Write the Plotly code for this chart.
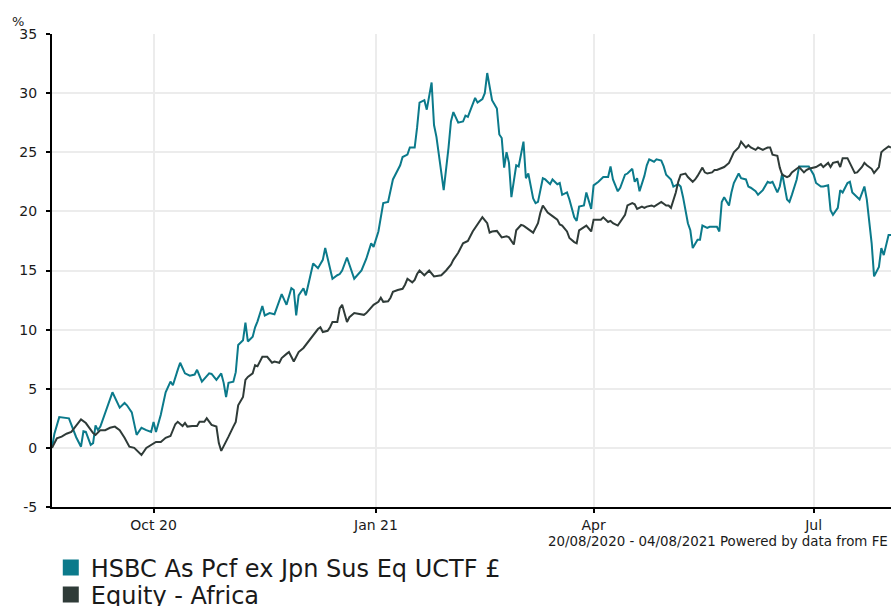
import plotly.graph_objects as go

# ---------------- data ----------------
hsbc_name = "HSBC As Pcf ex Jpn Sus Eq UCTF £"
africa_name = "Equity - Africa"

hsbc_dates = [
    "2020-08-20", "2020-08-21", "2020-08-23", "2020-08-27", "2020-08-30", "2020-09-01", "2020-09-02",
    "2020-09-03", "2020-09-05", "2020-09-06", "2020-09-07", "2020-09-08", "2020-09-09", "2020-09-12",
    "2020-09-14", "2020-09-17", "2020-09-19", "2020-09-20", "2020-09-22", "2020-09-24", "2020-09-26",
    "2020-09-28", "2020-09-30", "2020-10-01", "2020-10-02", "2020-10-04", "2020-10-06", "2020-10-08",
    "2020-10-09", "2020-10-11", "2020-10-12", "2020-10-14", "2020-10-16", "2020-10-18", "2020-10-19",
    "2020-10-21", "2020-10-24", "2020-10-25", "2020-10-27", "2020-10-29", "2020-10-30", "2020-10-31",
    "2020-11-01", "2020-11-03", "2020-11-04", "2020-11-05", "2020-11-07", "2020-11-08", "2020-11-09",
    "2020-11-11", "2020-11-12", "2020-11-13", "2020-11-15", "2020-11-16", "2020-11-18", "2020-11-20",
    "2020-11-22", "2020-11-23", "2020-11-25", "2020-11-27", "2020-11-28", "2020-11-29", "2020-11-30",
    "2020-12-02", "2020-12-03", "2020-12-06", "2020-12-08", "2020-12-10", "2020-12-11", "2020-12-14",
    "2020-12-16", "2020-12-17", "2020-12-18", "2020-12-20", "2020-12-23", "2020-12-26", "2020-12-28",
    "2020-12-30", "2020-12-31", "2021-01-02", "2021-01-04", "2021-01-06", "2021-01-08", "2021-01-11",
    "2021-01-12", "2021-01-14", "2021-01-15", "2021-01-17", "2021-01-18", "2021-01-19", "2021-01-21",
    "2021-01-22", "2021-01-24", "2021-01-25", "2021-01-26", "2021-01-28", "2021-01-29", "2021-01-31",
    "2021-02-01", "2021-02-02", "2021-02-04", "2021-02-06", "2021-02-07", "2021-02-08", "2021-02-10",
    "2021-02-11", "2021-02-12", "2021-02-14", "2021-02-15", "2021-02-16", "2021-02-18", "2021-02-20",
    "2021-02-21", "2021-02-22", "2021-02-23", "2021-02-24", "2021-02-25", "2021-02-26", "2021-02-28",
    "2021-03-01", "2021-03-03", "2021-03-04", "2021-03-05", "2021-03-07", "2021-03-08", "2021-03-09",
    "2021-03-11", "2021-03-12", "2021-03-14", "2021-03-15", "2021-03-17", "2021-03-18", "2021-03-19",
    "2021-03-21", "2021-03-22", "2021-03-24", "2021-03-25", "2021-03-26", "2021-03-28", "2021-03-29",
    "2021-03-31", "2021-04-01", "2021-04-03", "2021-04-04", "2021-04-05", "2021-04-07", "2021-04-08",
    "2021-04-09", "2021-04-11", "2021-04-12", "2021-04-14", "2021-04-15", "2021-04-17", "2021-04-18",
    "2021-04-19", "2021-04-20", "2021-04-22", "2021-04-23", "2021-04-24", "2021-04-26", "2021-04-27",
    "2021-04-29", "2021-04-30", "2021-05-01", "2021-05-03", "2021-05-04", "2021-05-06", "2021-05-07",
    "2021-05-08", "2021-05-10", "2021-05-11", "2021-05-12", "2021-05-14", "2021-05-15", "2021-05-16",
    "2021-05-18", "2021-05-19", "2021-05-20", "2021-05-22", "2021-05-23", "2021-05-24", "2021-05-25",
    "2021-05-27", "2021-05-28", "2021-05-29", "2021-05-31", "2021-06-01", "2021-06-03", "2021-06-04",
    "2021-06-05", "2021-06-07", "2021-06-08", "2021-06-10", "2021-06-12", "2021-06-13", "2021-06-14",
    "2021-06-16", "2021-06-17", "2021-06-18", "2021-06-20", "2021-06-21", "2021-06-22", "2021-06-24",
    "2021-06-25", "2021-06-27", "2021-06-28", "2021-06-29", "2021-07-01", "2021-07-02", "2021-07-04",
    "2021-07-05", "2021-07-07", "2021-07-08", "2021-07-09", "2021-07-11", "2021-07-12", "2021-07-13",
    "2021-07-15", "2021-07-16", "2021-07-17", "2021-07-19", "2021-07-20", "2021-07-22", "2021-07-23",
    "2021-07-25", "2021-07-26", "2021-07-28", "2021-07-29", "2021-07-30", "2021-08-01", "2021-08-02",
]
hsbc_values = [
    0.0, 1.2, 2.6, 2.5, 0.9, 0.1, 1.4,
    1.35, 0.25, 0.4, 1.9, 1.5, 1.8, 3.6,
    4.7, 3.4, 3.8, 3.6, 3.0, 1.1, 1.7,
    1.5, 1.35, 2.2, 1.35, 2.8, 4.7, 5.6,
    5.3, 6.6, 7.2, 6.3, 6.1, 6.2, 6.6,
    5.6, 6.3, 6.25, 5.75, 6.3, 5.5, 4.3,
    5.5, 5.6, 6.4, 8.7, 9.1, 10.6, 9.0,
    9.4, 10.2, 10.7, 12.0, 11.2, 11.4, 11.3,
    12.5, 13.0, 12.1, 13.5, 13.35, 11.2, 12.9,
    13.5, 12.9, 15.6, 15.2, 15.9, 16.9, 14.3,
    14.6, 14.7, 15.0, 16.1, 14.3, 15.0, 16.0,
    17.3, 17.0, 18.3, 20.7, 20.8, 22.7, 23.9,
    24.6, 24.8, 25.4, 25.4, 27.1, 29.2, 29.4,
    28.6, 30.9, 27.3, 26.3, 23.3, 21.8, 25.4,
    27.6, 28.4, 27.5, 27.6, 28.1, 28.0, 29.0,
    29.6, 29.2, 29.5, 30.0, 31.7, 29.4, 28.7,
    26.5, 26.2, 23.7, 25.0, 24.1, 21.2, 23.9,
    23.8, 25.9, 22.8, 23.2, 21.1, 20.7, 20.8,
    22.8, 22.7, 22.3, 22.7, 22.3, 22.4, 21.4,
    21.6, 21.0, 19.5, 19.2, 20.4, 20.5, 21.6,
    20.2, 22.2, 22.5, 22.7, 22.9, 22.9, 23.8,
    22.7, 21.7, 22.0, 23.1, 23.2, 23.6, 22.5,
    22.8, 21.7, 23.0, 23.9, 24.4, 24.2, 24.4,
    24.3, 23.8, 23.1, 22.7, 22.1, 22.3, 22.1,
    21.2, 19.0, 18.4, 16.9, 17.6, 17.6, 18.8,
    18.6, 18.7, 18.7, 18.7, 18.3, 20.8, 21.2,
    20.5, 21.6, 22.4, 23.2, 22.8, 22.7, 22.1,
    22.0, 21.7, 21.4, 21.8, 22.5, 22.4, 22.5,
    21.6, 22.1, 23.2, 21.0, 20.8, 21.4, 22.7,
    23.8, 23.8, 23.8, 23.8, 23.1, 22.4, 22.1,
    22.1, 22.2, 20.1, 19.7, 20.3, 21.8, 21.6,
    22.4, 22.5, 21.6, 21.2, 21.0, 22.1, 21.0,
    17.3, 14.5, 15.3, 16.9, 16.3, 18.0, 18.0,
]

africa_dates = [
    "2020-08-20", "2020-08-22", "2020-08-24", "2020-08-26", "2020-08-28", "2020-08-30", "2020-09-01",
    "2020-09-03", "2020-09-04", "2020-09-06", "2020-09-07", "2020-09-09", "2020-09-11", "2020-09-13",
    "2020-09-15", "2020-09-17", "2020-09-19", "2020-09-21", "2020-09-23", "2020-09-25", "2020-09-26",
    "2020-09-28", "2020-09-30", "2020-10-02", "2020-10-04", "2020-10-06", "2020-10-08", "2020-10-10",
    "2020-10-11", "2020-10-13", "2020-10-14", "2020-10-15", "2020-10-17", "2020-10-19", "2020-10-20",
    "2020-10-22", "2020-10-23", "2020-10-25", "2020-10-27", "2020-10-28", "2020-10-29", "2020-10-31",
    "2020-11-01", "2020-11-03", "2020-11-04", "2020-11-05", "2020-11-07", "2020-11-08", "2020-11-09",
    "2020-11-11", "2020-11-12", "2020-11-13", "2020-11-15", "2020-11-16", "2020-11-17", "2020-11-19",
    "2020-11-20", "2020-11-22", "2020-11-23", "2020-11-25", "2020-11-26", "2020-11-28", "2020-11-30",
    "2020-12-02", "2020-12-04", "2020-12-06", "2020-12-08", "2020-12-09", "2020-12-10", "2020-12-12",
    "2020-12-13", "2020-12-14", "2020-12-16", "2020-12-17", "2020-12-18", "2020-12-20", "2020-12-21",
    "2020-12-23", "2020-12-25", "2020-12-27", "2020-12-28", "2020-12-30", "2020-12-31", "2021-01-02",
    "2021-01-03", "2021-01-04", "2021-01-06", "2021-01-07", "2021-01-08", "2021-01-10", "2021-01-12",
    "2021-01-13", "2021-01-14", "2021-01-16", "2021-01-17", "2021-01-18", "2021-01-19", "2021-01-21",
    "2021-01-23", "2021-01-25", "2021-01-28", "2021-01-30", "2021-02-01", "2021-02-02", "2021-02-04",
    "2021-02-06", "2021-02-08", "2021-02-10", "2021-02-12", "2021-02-14", "2021-02-16", "2021-02-17",
    "2021-02-18", "2021-02-20", "2021-02-22", "2021-02-24", "2021-02-25", "2021-02-27", "2021-02-28",
    "2021-03-02", "2021-03-03", "2021-03-05", "2021-03-06", "2021-03-07", "2021-03-09", "2021-03-10",
    "2021-03-11", "2021-03-13", "2021-03-15", "2021-03-17", "2021-03-18", "2021-03-19", "2021-03-21",
    "2021-03-22", "2021-03-24", "2021-03-25", "2021-03-26", "2021-03-28", "2021-03-29", "2021-03-31",
    "2021-04-01", "2021-04-03", "2021-04-04", "2021-04-05", "2021-04-07", "2021-04-08", "2021-04-09",
    "2021-04-11", "2021-04-12", "2021-04-14", "2021-04-15", "2021-04-17", "2021-04-18", "2021-04-19",
    "2021-04-21", "2021-04-22", "2021-04-23", "2021-04-25", "2021-04-26", "2021-04-28", "2021-04-29",
    "2021-05-01", "2021-05-02", "2021-05-03", "2021-05-05", "2021-05-06", "2021-05-07", "2021-05-09",
    "2021-05-10", "2021-05-12", "2021-05-13", "2021-05-14", "2021-05-16", "2021-05-17", "2021-05-18",
    "2021-05-20", "2021-05-21", "2021-05-22", "2021-05-24", "2021-05-25", "2021-05-27", "2021-05-28",
    "2021-05-29", "2021-05-31", "2021-06-01", "2021-06-03", "2021-06-04", "2021-06-05", "2021-06-07",
    "2021-06-08", "2021-06-10", "2021-06-11", "2021-06-12", "2021-06-13", "2021-06-14", "2021-06-16",
    "2021-06-17", "2021-06-18", "2021-06-20", "2021-06-21", "2021-06-22", "2021-06-24", "2021-06-25",
    "2021-06-27", "2021-06-28", "2021-06-29", "2021-07-01", "2021-07-02", "2021-07-04", "2021-07-05",
    "2021-07-07", "2021-07-08", "2021-07-09", "2021-07-11", "2021-07-12", "2021-07-13", "2021-07-15",
    "2021-07-16", "2021-07-18", "2021-07-19", "2021-07-21", "2021-07-22", "2021-07-23", "2021-07-25",
    "2021-07-26", "2021-07-28", "2021-07-29", "2021-07-30", "2021-08-01", "2021-08-02",
]
africa_values = [
    0.0, 0.8, 0.95, 1.2, 1.35, 1.9, 2.4,
    2.1, 1.8, 1.25, 1.1, 1.5, 1.5, 1.7,
    1.8, 1.5, 0.85, 0.1, 0.0, -0.45, -0.6,
    0.0, 0.25, 0.5, 0.5, 0.85, 1.0, 2.0,
    2.2, 1.85, 2.1, 1.8, 1.85, 1.85, 2.2,
    2.2, 2.5, 1.95, 1.8, 0.4, -0.25, 0.5,
    0.95, 1.8, 2.2, 3.6, 4.3, 5.75, 6.0,
    6.3, 7.0, 6.9, 7.7, 7.7, 7.7, 7.2,
    7.3, 7.2, 7.6, 7.95, 8.1, 7.3, 8.1,
    8.45, 9.0, 9.55, 10.05, 10.2, 9.8, 9.9,
    10.2, 10.65, 10.65, 11.8, 12.1, 10.65, 11.05,
    11.4, 11.3, 11.25, 11.4, 11.9, 12.1, 12.35,
    12.7, 12.35, 12.4, 12.7, 13.2, 13.35, 13.45,
    13.8, 14.3, 14.0, 14.2, 14.7, 15.0, 14.6,
    15.0, 14.5, 14.6, 15.0, 15.5, 15.9, 16.5,
    17.3, 17.5, 18.3, 18.85, 19.5, 19.0, 18.2,
    18.3, 18.35, 17.8, 17.9, 17.8, 17.2, 18.4,
    18.85, 18.8, 18.5, 18.35, 18.2, 19.0, 19.9,
    20.5, 19.9, 19.6, 19.3, 18.9, 18.8, 18.3,
    17.75, 17.4, 17.3, 18.4, 18.7, 18.8, 18.3,
    19.3, 19.3, 19.3, 19.5, 19.1, 19.2, 19.0,
    18.8, 19.1, 19.7, 20.5, 20.7, 20.6, 20.2,
    20.4, 20.3, 20.4, 20.5, 20.4, 20.7, 20.8,
    20.5, 20.5, 20.3, 21.6, 22.5, 23.1, 23.2,
    22.9, 22.5, 22.7, 23.0, 23.7, 23.3, 23.2,
    23.3, 23.5, 23.5, 23.7, 23.75, 24.1, 24.6,
    25.0, 25.4, 25.9, 25.4, 25.6, 25.4, 25.2,
    25.4, 25.2, 25.3, 25.4, 25.4, 24.8, 24.7,
    23.7, 23.1, 22.9, 23.0, 23.3, 23.6, 23.75,
    23.3, 23.5, 23.6, 23.7, 23.75, 24.0, 23.75,
    24.1, 23.75, 24.1, 24.2, 23.75, 24.5, 24.5,
    24.1, 23.25, 23.3, 23.75, 24.1, 23.9, 23.6,
    23.25, 23.75, 25.0, 25.2, 25.5, 25.4,
]

x_tick_vals = ["2020-10-01", "2021-01-01", "2021-04-01", "2021-07-01"]
x_tick_text = ["Oct 20", "Jan 21", "Apr", "Jul"]
y_tick_vals = [-5, 0, 5, 10, 15, 20, 25, 30, 35]
y_tick_text = ["-5", "0", "5", "10", "15", "20", "25", "30", "35"]

date_note = "20/08/2020 - 04/08/2021 Powered by data from FE"

# ---------------- styles ----------------
TEAL = "#0b7a8b"
DARK = "#2f3b38"
FONT = "DejaVu Sans, Verdana, sans-serif"
TXT = "#1a1a1a"

fig = go.Figure()

fig.add_trace(go.Scatter(x=hsbc_dates, y=hsbc_values, mode="lines",
                         line=dict(color=TEAL, width=2), showlegend=False, name=hsbc_name))
fig.add_trace(go.Scatter(x=africa_dates, y=africa_values, mode="lines",
                         line=dict(color=DARK, width=2), showlegend=False, name=africa_name))

# legend entries with square swatches, one legend per row
fig.add_trace(go.Scatter(x=[None], y=[None], mode="markers", name=hsbc_name, legend="legend",
                         marker=dict(symbol="square", size=16, color=TEAL)))
fig.add_trace(go.Scatter(x=[None], y=[None], mode="markers", name=africa_name, legend="legend2",
                         marker=dict(symbol="square", size=16, color=DARK)))

legend_style = dict(orientation="v", xref="container", yref="container",
                    x=0.057, xanchor="left", yanchor="middle",
                    font=dict(family=FONT, size=24, color=TXT),
                    itemwidth=30, tracegroupgap=0, bgcolor="rgba(0,0,0,0)",
                    borderwidth=0)

fig.update_layout(
    width=891, height=606,
    margin=dict(l=52, r=0, t=34, b=99, autoexpand=False),
    paper_bgcolor="white", plot_bgcolor="white",
    font=dict(family=FONT, size=14, color=TXT),
    showlegend=True,
    legend=dict(legend_style, y=1 - 568 / 606),
    legend2=dict(legend_style, y=1 - 595 / 606),
    xaxis=dict(
        type="date", range=["2020-08-20", "2021-08-02"], automargin=False,
        tickmode="array", tickvals=x_tick_vals, ticktext=x_tick_text,
        showgrid=True, gridcolor="#ececec", gridwidth=2,
        showline=True, linecolor="black", linewidth=2,
        ticks="outside", ticklen=4, tickwidth=2, tickcolor="black",
        tickfont=dict(family=FONT, size=14, color=TXT),
        zeroline=False,
    ),
    yaxis=dict(
        range=[-5, 35], automargin=False,
        tickmode="array", tickvals=y_tick_vals, ticktext=y_tick_text,
        showgrid=True, gridcolor="#ececec", gridwidth=2,
        showline=True, linecolor="black", linewidth=2,
        ticks="outside", ticklen=4, tickwidth=2, tickcolor="black",
        tickfont=dict(family=FONT, size=14, color=TXT),
        ticklabelstandoff=6,
        zeroline=False,
    ),
    annotations=[
        dict(text="%", xref="paper", yref="paper", x=-0.05, y=1.0, xanchor="left",
             yanchor="bottom", yshift=3, showarrow=False,
             font=dict(family=FONT, size=13, color=TXT)),
        dict(text=date_note, xref="paper", yref="paper", x=1.0, y=-0.072,
             xanchor="right", yanchor="middle", xshift=-1, showarrow=False,
             font=dict(family=FONT, size=13.4, color=TXT)),
    ],
)

fig.write_html("out.html", config={"displayModeBar": False},
               post_script="document.body.style.margin='0px';")
